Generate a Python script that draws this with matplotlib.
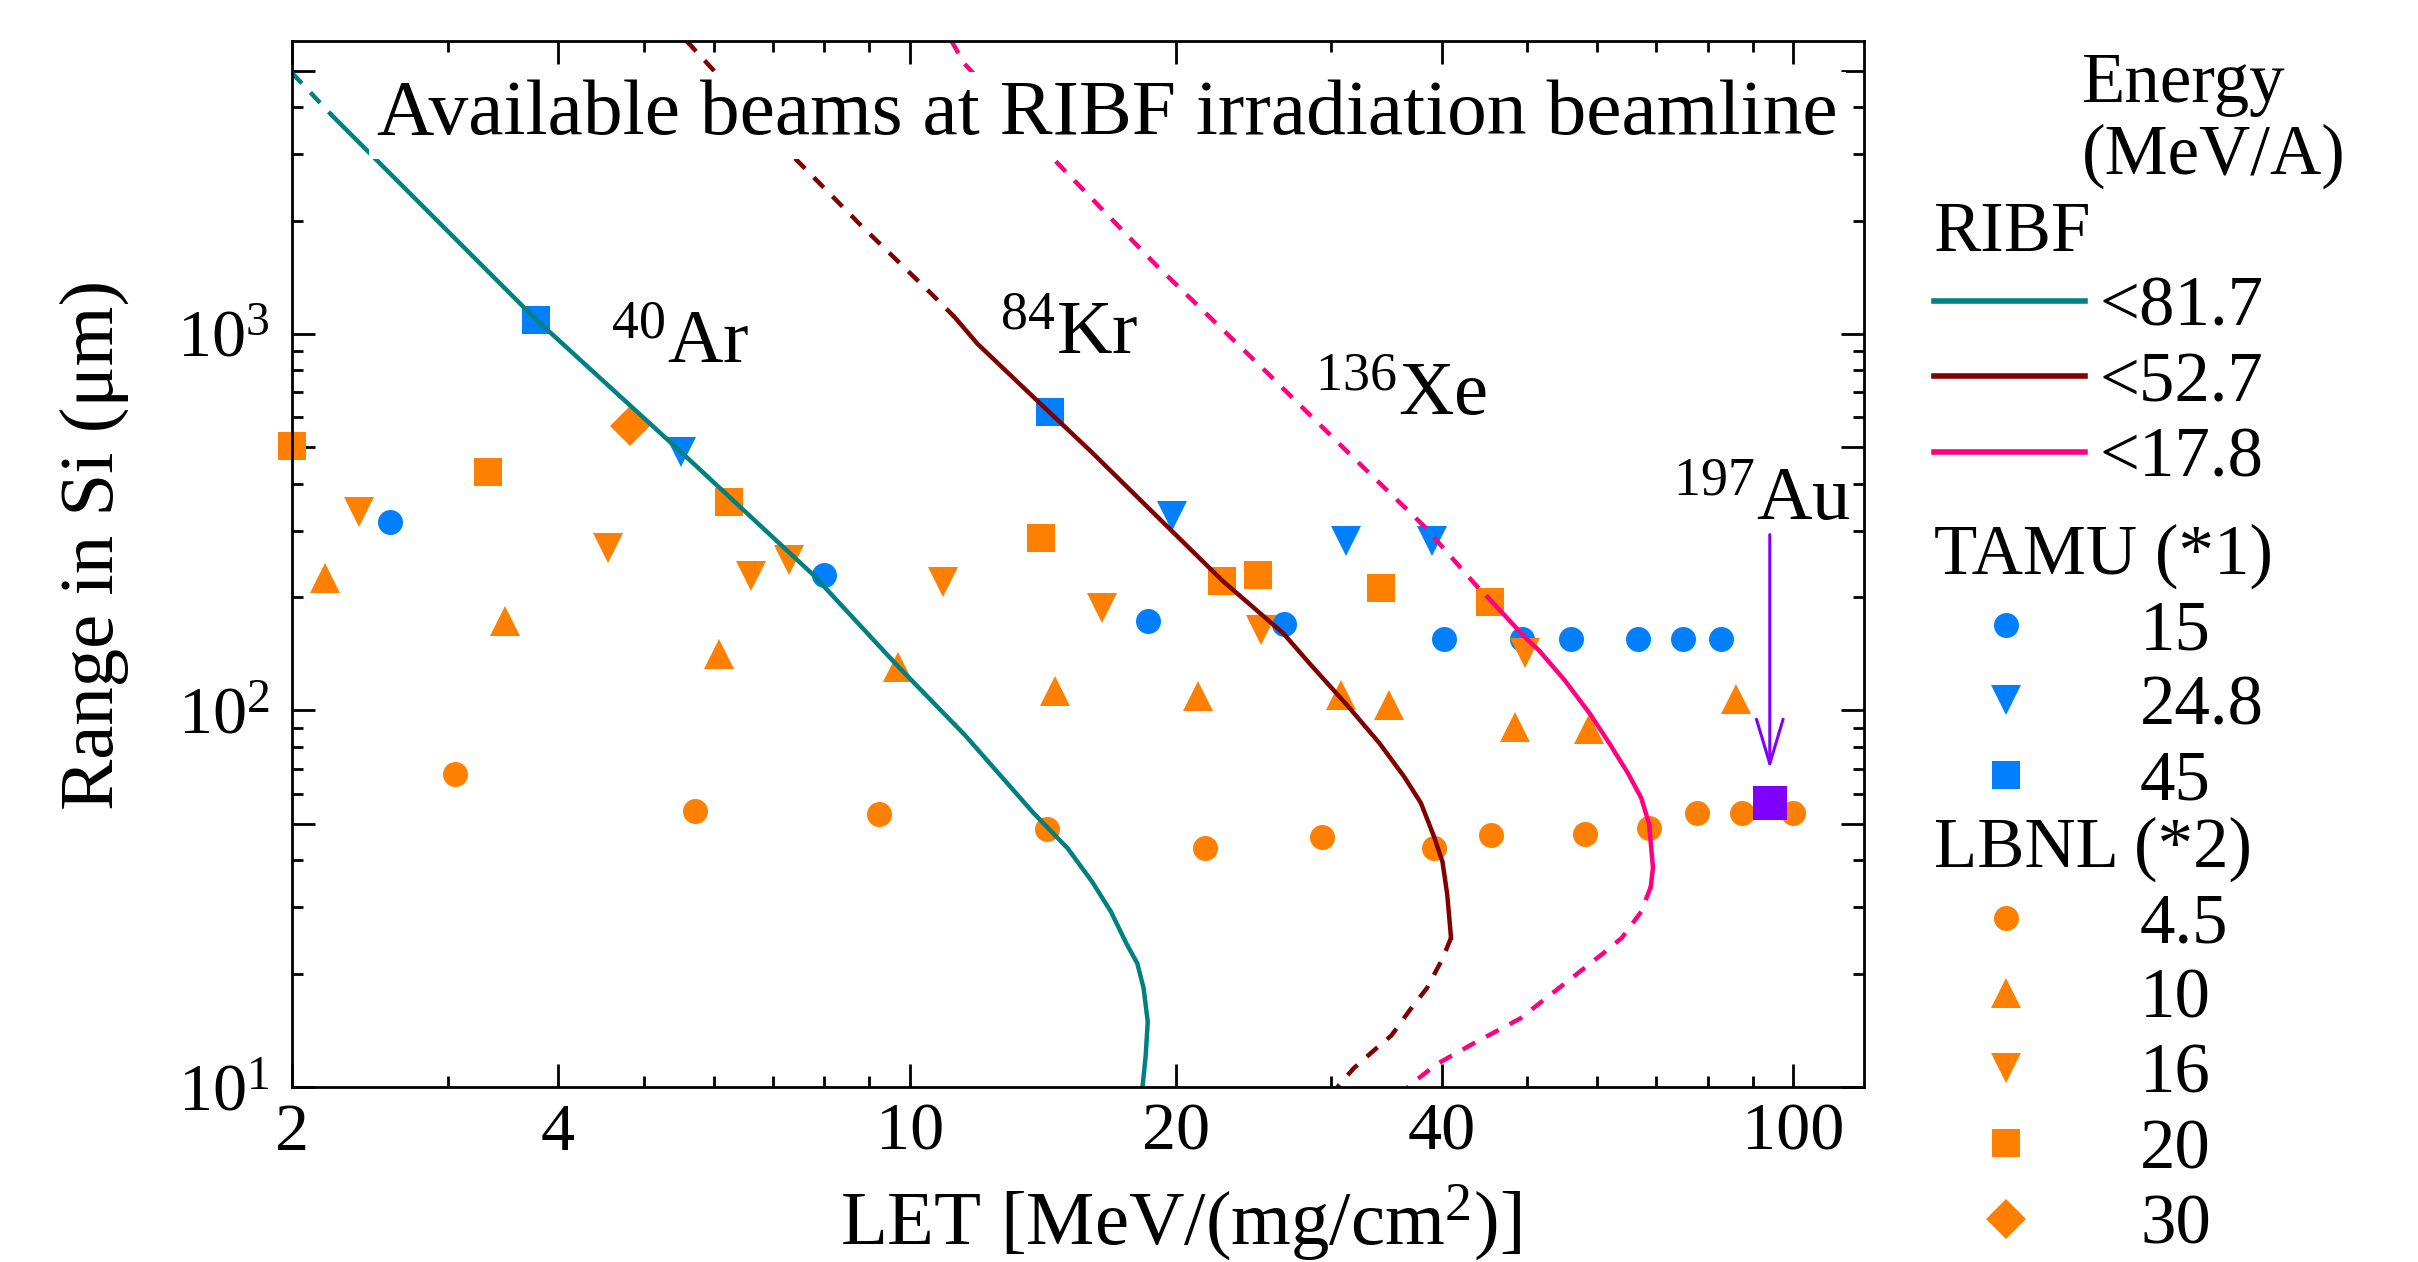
import matplotlib
matplotlib.use('Agg')
import matplotlib.pyplot as plt
from matplotlib.ticker import NullFormatter

plt.rcParams['font.family'] = ['Liberation Serif', 'DejaVu Serif']
plt.rcParams['mathtext.fontset'] = 'custom'
plt.rcParams['mathtext.rm'] = 'Liberation Serif'
plt.rcParams['mathtext.it'] = 'Liberation Serif:italic'
plt.rcParams['mathtext.bf'] = 'Liberation Serif:bold'

TEAL = '#008080'
DARKRED = '#800000'
PINK = '#FF0080'
BLUE = '#0080FF'
ORANGE = '#FF8000'
PURPLE = '#8000FF'

### DATA ###
# RIBF range curves in Si: (LET, range), dashed = outside available energy
ar_dash_let = [2.0, 2.22]
ar_dash_rng = [4930, 3800]
ar_let = [2.22, 3.78, 5.51, 7.78, 9.7, 11.55, 13.8, 15.1, 16.1, 16.9, 17.6,
          18.1, 18.4, 18.6, 18.5, 18.35]
ar_rng = [3800, 1090, 486, 229, 131, 86, 53.5, 43, 35, 29.2, 24,
          21.3, 18.3, 14.9, 12.1, 10.0]

kr_dash_top_let = [5.59, 7.35, 8.82, 10.7, 11.24]
kr_dash_top_rng = [6000, 2990, 1936, 1246, 1109]
kr_let = [11.24, 11.94, 13.84, 16.06, 22.6, 26.5, 28.3, 31.3, 34.0, 36.3,
          37.9, 39.2, 40.1, 40.6, 41.0]
kr_rng = [1109, 940, 676, 486, 221, 160, 134, 103, 82, 66.6,
          56.8, 46.4, 39.6, 32.4, 24.9]
kr_dash_bot_let = [41.0, 40.1, 38.5, 36.9, 35.1, 33.4, 31.8, 30.5]
kr_dash_bot_rng = [24.9, 21.9, 18.3, 16.1, 13.7, 12.4, 11.2, 10.0]

xe_dash_top_let = [11.15, 11.54, 14.4, 19.0, 25.4, 31.3, 38.2, 43.6, 45.1]
xe_dash_top_rng = [6000, 5213, 2988, 1525, 788, 486, 309, 217, 200]
xe_let = [45.1, 49.8, 51.5, 55.1, 58.9, 61.9, 65.0, 67.3, 68.7, 69.4, 69.0]
xe_rng = [200, 155.8, 144.8, 120.5, 97.9, 82, 68.2, 58.6, 50.0, 38.2, 34.0]
xe_dash_bot_let = [69.0, 67.3, 64.0, 60.9, 55.1, 49.1, 43.6, 39.5, 36.6]
xe_dash_bot_rng = [34.0, 29.2, 24.9, 22.6, 18.8, 15.2, 13.1, 11.5, 10.0]

ribf_labels = ['<81.7', '<52.7', '<17.8']

# 197Au point
au_let = [94.1]
au_rng = [56.8]
au_arrow_top = 293
au_arrow_tip = 69.9

# TAMU beams (energy MeV/A)
tamu15_let = [2.58, 7.99, 18.6, 26.5, 40.3, 49.3, 56.0, 66.7, 75.0, 82.8]
tamu15_rng = [317, 229, 173, 170, 155, 155, 155, 155, 155, 155]
tamu248_let = [5.51, 19.8, 31.2, 39.0]
tamu248_rng = [486, 329, 282, 282]
tamu45_let = [3.78, 14.4]
tamu45_rng = [1090, 620]
tamu_labels = ['15', '24.8', '45']

# LBNL beams (energy MeV/A)
lbnl45_let = [3.06, 5.72, 9.24, 14.3, 21.6, 29.3, 39.2, 45.5, 58.1, 68.7, 77.8, 87.5, 100]
lbnl45_rng = [67.8, 54.1, 53.1, 48.5, 43.1, 46.1, 43.1, 46.7, 47.0, 48.7, 53.4, 53.4, 53.4]
lbnl10_let = [2.18, 3.48, 6.09, 9.71, 14.6, 21.2, 30.8, 34.9, 48.4, 58.7, 86.2]
lbnl10_rng = [225, 173, 141, 130.5, 112.7, 109.3, 110, 103.4, 90.4, 89.3, 107.3]
lbnl16_let = [2.38, 4.56, 6.62, 7.31, 10.9, 16.5, 25.0, 49.7]
lbnl16_rng = [337, 270, 228, 251, 219, 187, 164, 142]
lbnl20_let = [2.0, 3.33, 6.25, 14.1, 22.6, 24.8, 34.2, 45.4]
lbnl20_rng = [504, 430, 358, 287, 221, 229, 212, 194]
lbnl30_let = [4.83]
lbnl30_rng = [570]
lbnl_labels = ['4.5', '10', '16', '20', '30']

x_major = [2, 4, 10, 20, 40, 100]
x_major_labels = ['2', '4', '10', '20', '40', '100']
x_minor = [3, 5, 6, 7, 8, 9, 30, 50, 60, 70, 80, 90]
y_major = [10, 50, 100, 500, 1000, 5000]
y_major_labels = ['$10^{1}$', '', '$10^{2}$', '', '$10^{3}$', '']
y_minor = [20, 30, 40, 60, 70, 80, 90, 200, 300, 400, 600, 700, 800, 900,
           2000, 3000, 4000]

### PLOT ###
fig = plt.figure(figsize=(12.09, 6.31), dpi=200)
ax = fig.add_axes([0.1208, 0.1387, 0.6501, 0.8289])

mk = dict(linestyle='none', mew=0, clip_on=False)
h_t15, = ax.plot(tamu15_let, tamu15_rng, marker='o', ms=9, color=BLUE, **mk)
h_t248, = ax.plot(tamu248_let, tamu248_rng, marker='v', ms=11, color=BLUE, **mk)
h_t45, = ax.plot(tamu45_let, tamu45_rng, marker='s', ms=10, color=BLUE, **mk)

h_l45, = ax.plot(lbnl45_let, lbnl45_rng, marker='o', ms=9, color=ORANGE, **mk)
h_l10, = ax.plot(lbnl10_let, lbnl10_rng, marker='^', ms=11, color=ORANGE, **mk)
h_l16, = ax.plot(lbnl16_let, lbnl16_rng, marker='v', ms=11, color=ORANGE, **mk)
h_l20, = ax.plot(lbnl20_let, lbnl20_rng, marker='s', ms=10, color=ORANGE, **mk)
h_l30, = ax.plot(lbnl30_let, lbnl30_rng, marker='D', ms=10, color=ORANGE, **mk)

lw = 1.6
dash = (3.2, 2.8)
ax.plot(ar_dash_let, ar_dash_rng, color=TEAL, lw=lw, dashes=dash)
h_ar, = ax.plot(ar_let, ar_rng, color=TEAL, lw=lw)
ax.plot(kr_dash_top_let, kr_dash_top_rng, color=DARKRED, lw=lw, dashes=dash)
h_kr, = ax.plot(kr_let, kr_rng, color=DARKRED, lw=lw)
ax.plot(kr_dash_bot_let, kr_dash_bot_rng, color=DARKRED, lw=lw, dashes=dash)
ax.plot(xe_dash_top_let, xe_dash_top_rng, color=PINK, lw=lw, dashes=dash)
h_xe, = ax.plot(xe_let, xe_rng, color=PINK, lw=lw)
ax.plot(xe_dash_bot_let, xe_dash_bot_rng, color=PINK, lw=lw, dashes=dash)

ax.plot(au_let, au_rng, marker='s', ms=12.2, mew=0, color=PURPLE,
        linestyle='none', zorder=3, clip_on=False)
ax.annotate('', xy=(au_let[0], au_arrow_tip), xytext=(au_let[0], au_arrow_top),
            arrowprops=dict(arrowstyle='->,head_length=0.4,head_width=0.12',
                            mutation_scale=40, color=PURPLE, lw=1.1,
                            shrinkA=0, shrinkB=0))

# isotope labels
iso_fs = 27.7
ax.text(4.59, 838, r'$^{40}$Ar', fontsize=iso_fs, va='baseline')
ax.text(12.64, 885, r'$^{84}$Kr', fontsize=iso_fs, va='baseline')
ax.text(28.8, 611, r'$^{136}$Xe', fontsize=iso_fs, va='baseline')
ax.text(73.1, 321, r'$^{197}$Au', fontsize=iso_fs, va='baseline')

ax.text(0.054, 0.911, 'Available beams at RIBF irradiation beamline',
        transform=ax.transAxes, fontsize=28.6, va='baseline', ha='left',
        bbox=dict(facecolor='white', edgecolor='none', pad=3), zorder=5)

ax.set_xscale('log')
ax.set_yscale('log')
ax.set_xlim(2, 120.3)
ax.set_ylim(10, 6000)

ax.set_xticks(x_major)
ax.set_xticklabels(x_major_labels)
ax.set_xticks(x_minor, minor=True)
ax.xaxis.set_minor_formatter(NullFormatter())
ax.set_yticks(y_major)
ax.set_yticklabels(y_major_labels)
ax.set_yticks(y_minor, minor=True)
ax.yaxis.set_minor_formatter(NullFormatter())

ax.tick_params(which='both', direction='in', top=True, right=True, width=1.0,
               labelsize=24.5)
ax.tick_params(which='major', length=8.3)
ax.tick_params(which='minor', length=4.1)
ax.tick_params(axis='x', pad=5.6)
ax.tick_params(axis='y', pad=8)
for sp in ax.spines.values():
    sp.set_linewidth(1.0)

ax.set_xlabel(r'LET [MeV/(mg/cm$^{2}$)]', fontsize=27.7)
ax.xaxis.label.set_va('baseline')
ax.xaxis.set_label_coords(0.565, -0.151)
ax.set_ylabel('Range in Si (μm)', fontsize=27.7)
ax.yaxis.set_label_coords(-0.104, 0.518)

# legend on the right
leg_fs = 25.5
fig.text(0.861, 0.9192, 'Energy', fontsize=leg_fs, va='baseline')
fig.text(0.861, 0.8621, '(MeV/A)', fontsize=leg_fs, va='baseline')

common = dict(loc='upper left', frameon=False, borderpad=0, borderaxespad=0,
              fontsize=leg_fs, title_fontsize=leg_fs, labelspacing=0.145,
              alignment='left')
leg1 = fig.legend(handles=[h_ar, h_kr, h_xe], labels=ribf_labels, title='RIBF',
                  bbox_to_anchor=(0.7998, 0.841), handlelength=2.13,
                  handletextpad=0.21, **common)
for ln in leg1.get_lines():
    ln.set_linewidth(2.0)
fig.legend(handles=[h_t15, h_t248, h_t45], labels=tamu_labels, title='TAMU (*1)',
           bbox_to_anchor=(0.7998, 0.5851), handlelength=2.03,
           handletextpad=0.88, numpoints=1, **common)
fig.legend(handles=[h_l45, h_l10, h_l16, h_l20, h_l30], labels=lbnl_labels,
           title='LBNL (*2)', bbox_to_anchor=(0.7998, 0.3529), handlelength=2.03,
           handletextpad=0.88, numpoints=1, **common)

fig.savefig('out.png', dpi=200)
